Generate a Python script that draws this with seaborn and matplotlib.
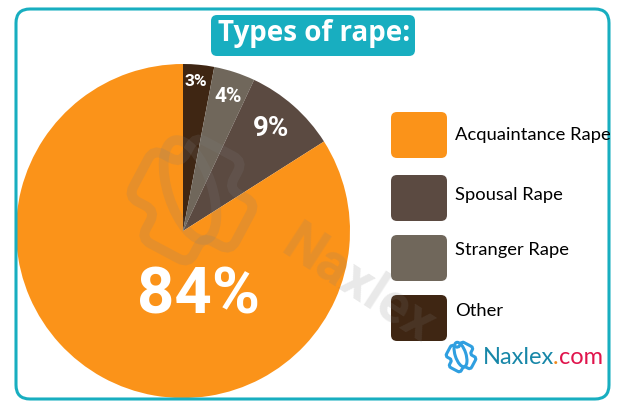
import matplotlib
matplotlib.use("Agg")
import matplotlib.pyplot as plt
import seaborn as sns
from matplotlib.patches import FancyBboxPatch, Ellipse, PathPatch
from matplotlib.path import Path
from matplotlib.transforms import Affine2D

labels = ["Other", "Stranger Rape", "Spousal Rape", "Acquaintance Rape"]
values = [3, 4, 9, 84]
slice_colors = ["#3f2613", "#70675b", "#5b4a41", "#fb9319"]
legend_order = ["Acquaintance Rape", "Spousal Rape", "Stranger Rape", "Other"]

TEAL = "#18aec0"
H = 407


def y_px(y):
    # positions below in pixels from the top
    return H - y


def rounded_outline(pts, r):
    # closed path through pts with each corner cut by a small curve
    verts, codes = [], []
    n = len(pts)
    for i in range(n):
        px, py = pts[i - 1]
        x, y = pts[i]
        nx, ny = pts[(i + 1) % n]
        d1 = max(abs(x - px), abs(y - py))
        d2 = max(abs(nx - x), abs(ny - y))
        start = (x + (px - x) * r / d1, y + (py - y) * r / d1)
        end = (x + (nx - x) * r / d2, y + (ny - y) * r / d2)
        verts += [start, (x, y), end]
        codes += [Path.MOVETO if i == 0 else Path.LINETO, Path.CURVE3, Path.CURVE3]
    verts.append(verts[0])
    codes.append(Path.CLOSEPOLY)
    return Path(verts, codes)


def draw_logo(ax, cx, cy, scale, color, lw, alpha, zorder):
    # rotated plus outline with a slanted ellipse through it
    L, W = 58 * scale, 27 * scale
    pts = [(-W, L), (W, L), (W, W), (L, W), (L, -W), (W, -W),
           (W, -L), (-W, -L), (-W, -W), (-L, -W), (-L, W), (-W, W)]
    tr = Affine2D().rotate_deg(-28).translate(cx, y_px(cy)) + ax.transData
    ax.add_patch(PathPatch(rounded_outline(pts, 11 * scale), fc="none", ec=color, lw=lw,
                           alpha=alpha, transform=tr, zorder=zorder))
    ax.add_patch(Ellipse((cx - 2 * scale, y_px(cy - 10 * scale)), 104 * scale, 44 * scale,
                         angle=-72, fc="none", ec=color, lw=lw, alpha=alpha, zorder=zorder))


sns.set_theme(style="white")
plt.rcParams["font.family"] = ["Roboto", "DejaVu Sans"]

fig = plt.figure(figsize=(6.25, 4.07), dpi=100)
ax = fig.add_axes([0, 0, 1, 1])

palette = sns.color_palette(slice_colors)
ax.pie(
    values,
    colors=palette,
    startangle=90,
    counterclock=False,
    center=(183, y_px(231)),
    radius=167,
    frame=True,
    wedgeprops={"edgecolor": "none", "linewidth": 0},
)
ax.set_xlim(0, 625)
ax.set_ylim(0, H)
ax.set_aspect("auto")
ax.axis("off")

# outer frame
ax.add_patch(FancyBboxPatch((16, y_px(399)), 593, 390,
                            boxstyle="round,pad=0,rounding_size=14",
                            fc="none", ec=TEAL, lw=2.2, zorder=1))

# title badge
ax.add_patch(FancyBboxPatch((211, y_px(56)), 204, 41,
                            boxstyle="round,pad=0,rounding_size=6",
                            fc=TEAL, ec="none", zorder=3))
ax.text(314, y_px(34), "Types of rape:", color="white", fontsize=20,
        fontweight="bold", ha="center", va="center", zorder=4,
        family=["Open Sans"])

# slice labels
pct_style = dict(color="white", fontweight="bold", ha="center", va="center", zorder=7)
ax.text(196, y_px(81), "3%", fontsize=12.5, **pct_style)
ax.text(228, y_px(97), "4%", fontsize=15, **pct_style)
ax.text(271, y_px(129), "9%", fontsize=20, **pct_style)
ax.text(198, y_px(296), "84%", fontsize=47, **pct_style)

# legend
swatch_y = [135, 198, 258, 318]
text_y = [135, 195, 250, 311]
for name, sy, ty in zip(legend_order, swatch_y, text_y):
    c = slice_colors[labels.index(name)]
    ax.add_patch(FancyBboxPatch((391, y_px(sy + 23)), 56, 46,
                                boxstyle="round,pad=0,rounding_size=6",
                                fc=c, ec="none", zorder=3))
    ax.text(455, y_px(ty), name, color="black", fontsize=13.2, ha="left", va="center",
            zorder=4, family=["Lato"])

# watermark
draw_logo(ax, 192, 200, 1.0, "#7f7f7f", 7, 0.17, 6)
ax.text(358, y_px(285), "Naxlex", color="#7f7f7f", alpha=0.17, fontsize=40,
        fontweight="bold", rotation=-33, ha="center", va="center", zorder=6,
        rotation_mode="anchor")

# corner logo
draw_logo(ax, 461, 357, 0.245, "#2f9fe0", 2.2, 1.0, 6)
brand = dict(fontsize=17, ha="left", va="center", zorder=6, family=["Lato"])
ax.text(483, y_px(358), "Naxlex", color="#1787a8", **brand)
ax.text(553, y_px(358), ".", color="#f08a1d", **brand)
ax.text(559, y_px(358), "com", color="#e0144c", **brand)

fig.savefig("out.png", dpi=100)
